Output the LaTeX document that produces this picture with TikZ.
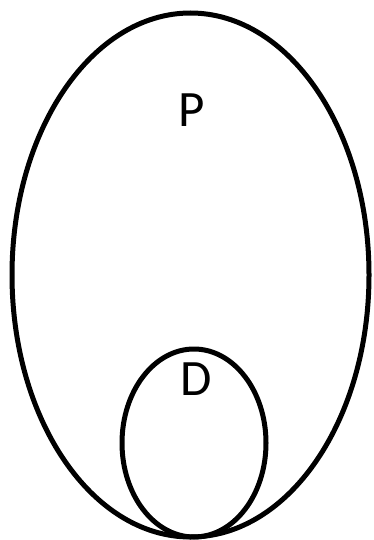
\documentclass[tikz,border=0pt]{standalone}
\usepackage{fontspec}
\setmainfont{Carlito}
\begin{document}
\begin{tikzpicture}[x=1pt,y=-1pt,
  shape outline/.style={line width=5pt,draw=black},
  lbl/.style={font=\fontsize{51}{51}\selectfont,inner sep=0pt,anchor=center}]
\useasboundingbox (0,0) rectangle (373,540);
\draw[shape outline] (190.5,275) ellipse [x radius=178.5, y radius=262];
\draw[shape outline] (194,443) ellipse [x radius=72, y radius=94];
\node[lbl] (P) at (192,110) {P};
\node[lbl] (D) at (196,379) {D};
\end{tikzpicture}
\end{document}
